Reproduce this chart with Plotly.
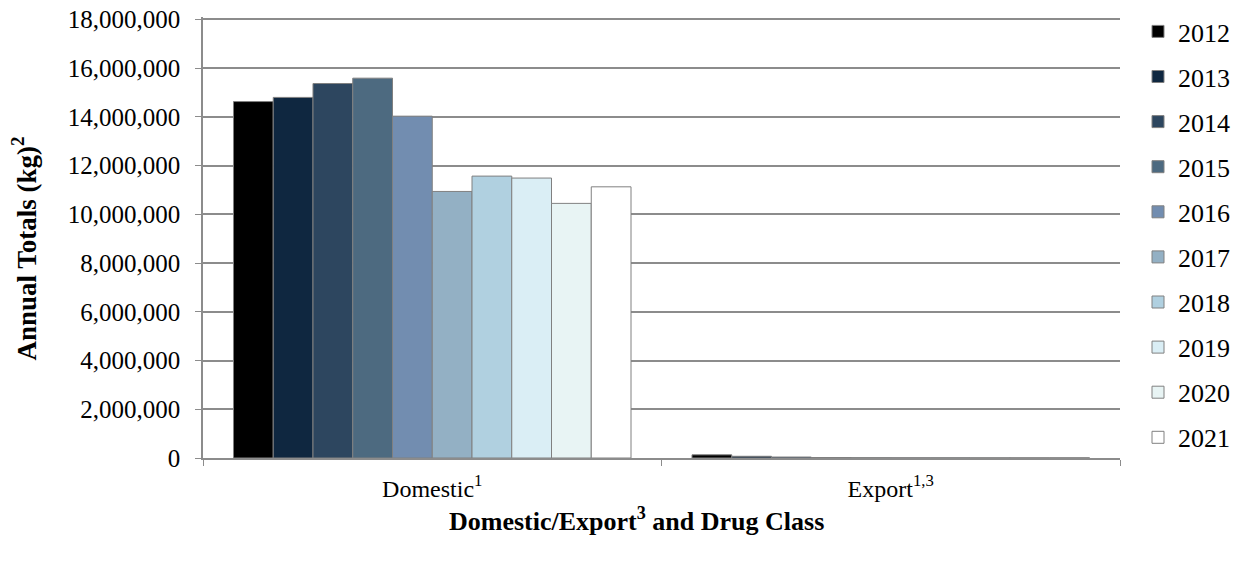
import plotly.graph_objects as go

categories = ["Domestic<sup>1</sup>", "Export<sup>1,3</sup>"]
years = ["2012", "2013", "2014", "2015", "2016", "2017", "2018", "2019", "2020", "2021"]
domestic = [14630000, 14800000, 15370000, 15590000, 14030000, 10940000, 11570000, 11490000, 10450000, 11130000]
export = [130000, 70000, 40000, 20000, 15000, 12000, 12000, 10000, 10000, 10000]
colors = ["#000000", "#0f2740", "#2d465f", "#4d6a80", "#728db0",
          "#93b0c4", "#b0d0e0", "#daeef5", "#e8f4f4", "#ffffff"]
y_ticks = [0, 2000000, 4000000, 6000000, 8000000, 10000000, 12000000, 14000000, 16000000, 18000000]
x_title = "<b>Domestic/Export<sup>3</sup> and Drug Class</b>"
y_title = "<b>Annual Totals (kg)<sup>2</sup></b>"

FONT = "Liberation Serif"

fig = go.Figure()
for i, y in enumerate(years):
    fig.add_trace(go.Bar(
        name=y, x=categories, y=[domestic[i], export[i]],
        marker=dict(color=colors[i], line=dict(color="#808080", width=1)),
        legendgroup=y,
    ))

fig.update_layout(
    width=1241, height=567,
    barmode="group", bargap=0.133, bargroupgap=0,
    plot_bgcolor="white", paper_bgcolor="white",
    margin=dict(l=195, r=129, t=9, b=117, autoexpand=False),
    font=dict(family=FONT, color="black", size=22),
    legend=dict(xref="container", yref="container",
                x=1130 / 1241, xanchor="left", y=1.0, yanchor="top",
                font=dict(family=FONT, size=26, color="black"), tracegroupgap=8.3,
                itemwidth=30, bgcolor="rgba(0,0,0,0)", maxheight=560),
    xaxis=dict(
        automargin=False,
        showline=True, linecolor="#8c8c8c", linewidth=1.5,
        ticks="outside", tickson="boundaries", ticklen=6, tickcolor="#8c8c8c",
        ticklabelstandoff=8,
        tickfont=dict(family=FONT, size=24),
    ),
    yaxis=dict(
        automargin=False,
        range=[0, 18100000], tickmode="array", tickvals=y_ticks, tickformat=",",
        ticklabeloverflow="allow",
        showgrid=True, gridcolor="#8c8c8c", gridwidth=1.5,
        showline=True, linecolor="#8c8c8c", linewidth=1.5,
        ticks="outside", ticklen=6, tickcolor="#8c8c8c",
        ticklabelstandoff=10,
        tickfont=dict(family=FONT, size=25),
    ),
    annotations=[
        dict(text=y_title, textangle=-90, xref="paper", yref="paper",
             x=0, y=0.5, xanchor="center", yanchor="middle",
             xshift=-179, yshift=-11, showarrow=False,
             font=dict(family=FONT, size=27, color="black")),
        dict(text=x_title, xref="paper", yref="paper",
             x=0.5, y=0, xanchor="center", yanchor="middle",
             xshift=-25, yshift=-61, showarrow=False,
             font=dict(family=FONT, size=26, color="black")),
    ],
)

fig.write_html("out.html")
